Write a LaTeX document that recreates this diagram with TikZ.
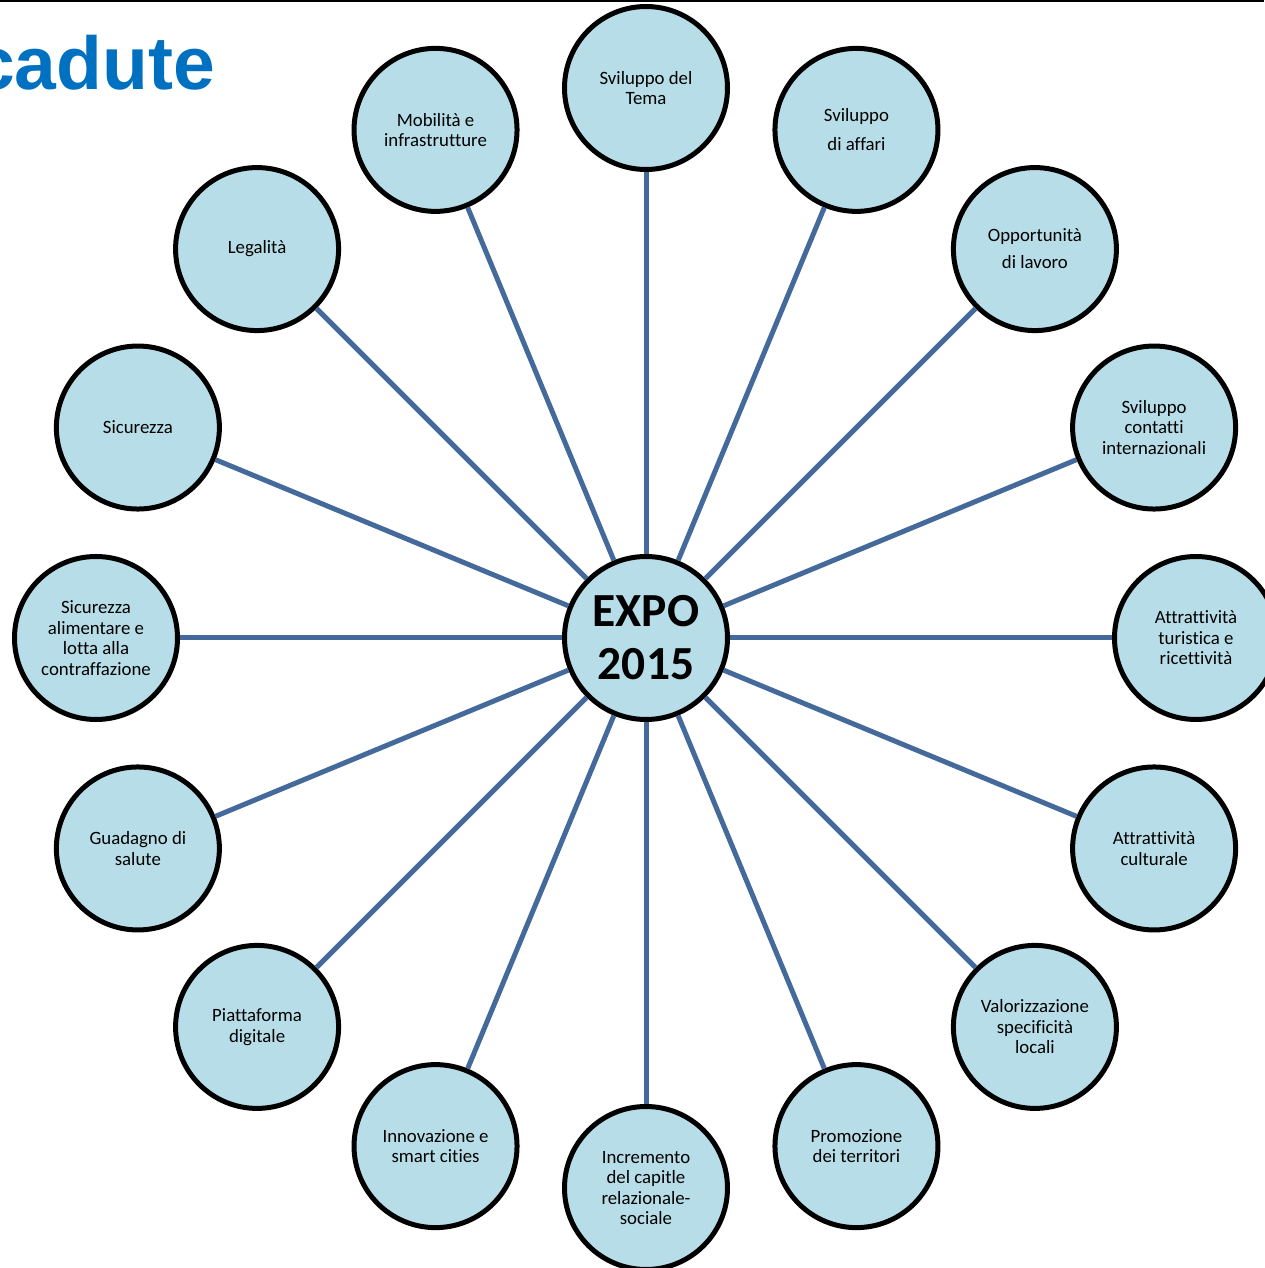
\documentclass[tikz,border=0pt]{standalone}
\usepackage{fontspec}
\setmainfont{Carlito}[Ligatures=NoCommon]
\newfontfamily\titlefont{Liberation Sans}
\usepackage{tikz}
\usetikzlibrary{backgrounds}

\definecolor{bubble}{HTML}{B7DEE8}
\definecolor{spoke}{RGB}{68,105,155}
\definecolor{titleblue}{HTML}{0070C0}

\begin{document}
\begin{tikzpicture}[x=1pt,y=1pt,
    topic/.style={circle,draw=black,line width=5pt,fill=bubble,minimum size=163pt,
      inner sep=0pt,align=center,text=black,font=\fontsize{18.8}{20.5}\selectfont},
    hub/.style={topic,font=\fontsize{47.5}{53}\selectfont\bfseries},
    link/.style={spoke,line width=5pt}]
            \useasboundingbox (-646,-630) rectangle (618,638);
            \draw[line width=2pt] (-646,637) -- (618,637);
            \node[anchor=base east,inner sep=0pt,text=titleblue,
              font=\titlefont\fontsize{75}{75}\selectfont\bfseries] (titolo) at (-431,548) {cadute};

            \node[hub] (expo) at (0,0) {EXPO\\2015};

            \node[topic] (tema) at (90:550) {Sviluppo del\\Tema};
            \node[topic] (affari) at (67.5:550) {Sviluppo\\[8.5pt]di affari};
            \node[topic] (lavoro) at (45:550) {Opportunità\\[6.5pt]di lavoro};
            \node[topic] (contatti) at (22.5:550) {Sviluppo\\contatti\\internazionali};
            \node[topic] (turismo) at (0:550) {Attrattività\\turistica e\\ricettività};
            \node[topic] (cultura) at (-22.5:550) {Attrattività\\culturale};
            \node[topic] (locali) at (-45:550) {Valorizzazione\\specificità\\locali};
            \node[topic] (territori) at (-67.5:550) {Promozione\\dei territori};
            \node[topic] (capitale) at (-90:550) {Incremento\\del capitle\\relazionale-\\sociale};
            \node[topic] (smart) at (-112.5:550) {Innovazione e\\smart cities};
            \node[topic] (digitale) at (-135:550) {Piattaforma\\digitale};
            \node[topic] (salute) at (-157.5:550) {Guadagno di\\salute};
            \node[topic] (alimentare) at (180:550) {Sicurezza\\alimentare e\\lotta alla\\contraffazione};
            \node[topic] (sicurezza) at (157.5:550) {Sicurezza};
            \node[topic] (legalita) at (135:550) {Legalità};
            \node[topic] (mobilita) at (112.5:550) {Mobilità e\\infrastrutture};

            % spokes from the hub out to every topic
            \foreach \t in {tema,affari,lavoro,contatti,turismo,cultura,locali,territori,
                capitale,smart,digitale,salute,alimentare,sicurezza,legalita,mobilita}
              \draw[link] (expo) -- (\t);
\end{tikzpicture}
\end{document}
